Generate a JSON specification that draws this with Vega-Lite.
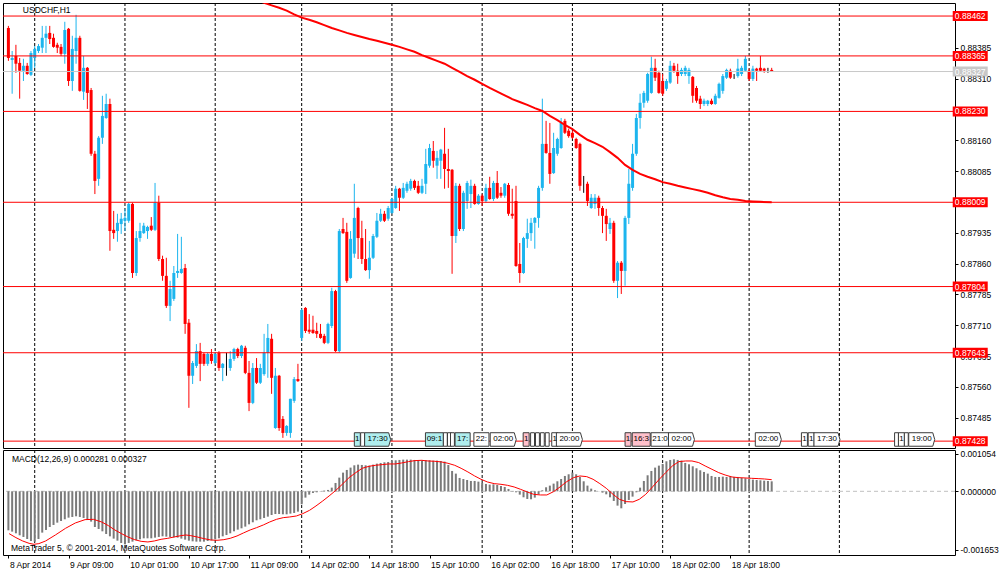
{
  "$schema": "https://vega.github.io/schema/vega-lite/v6.json",
  "background": "white",
  "padding": {"left": 2, "top": 2, "right": 0, "bottom": 0},
  "bounds": "flush",
  "spacing": 2,
  "config": {
    "view": {"stroke": "black", "strokeWidth": 1},
    "axis": {"labelFont": "Liberation Sans"},
    "text": {"font": "Liberation Sans"}
  },
  "datasets": {
    "days": [{"i": 7}, {"i": 31}, {"i": 55}, {"i": 78}, {"i": 102}, {"i": 126}, {"i": 150}, {"i": 174}, {"i": 197}, {"i": 221}],
    "levels": [
      {"p": 0.88462, "t": "0.88462", "k": "level"},
      {"p": 0.88365, "t": "0.88365", "k": "level"},
      {"p": 0.88327, "t": "0.88327", "k": "bid"},
      {"p": 0.8823, "t": "0.88230", "k": "level"},
      {"p": 0.88009, "t": "0.88009", "k": "level"},
      {"p": 0.87804, "t": "0.87804", "k": "level"},
      {"p": 0.87643, "t": "0.87643", "k": "level"},
      {"p": 0.87428, "t": "0.87428", "k": "level"}
    ],
    "events": [
      {"i": 92.8, "t": "1", "k": "buy"}, {"i": 94.2, "t": "", "k": "none"}, {"i": 98.2, "t": "17:30", "k": "buy"},
      {"i": 113.3, "t": "09:1", "k": "buy"}, {"i": 116.2, "t": "", "k": "none"}, {"i": 117.3, "t": "", "k": "none"},
      {"i": 118.1, "t": "", "k": "none"}, {"i": 120.8, "t": "17:", "k": "buy"}, {"i": 125.8, "t": "22:", "k": "none"},
      {"i": 131.6, "t": "02:00", "k": "none"}, {"i": 137.7, "t": "1", "k": "sell"}, {"i": 139.4, "t": "", "k": "none"},
      {"i": 140.7, "t": "", "k": "none"}, {"i": 142.0, "t": "", "k": "none"}, {"i": 143.3, "t": "", "k": "none"},
      {"i": 145.3, "t": "1", "k": "none"}, {"i": 149.2, "t": "20:00", "k": "none"}, {"i": 164.8, "t": "1", "k": "sell"},
      {"i": 168.3, "t": "16:3", "k": "sell"}, {"i": 173.3, "t": "21:0", "k": "none"}, {"i": 179.0, "t": "02:00", "k": "none"},
      {"i": 202.1, "t": "02:00", "k": "none"}, {"i": 211.7, "t": "1", "k": "none"}, {"i": 213.5, "t": "1", "k": "none"},
      {"i": 217.7, "t": "17:30", "k": "none"}, {"i": 236.2, "t": "", "k": "none"}, {"i": 237.5, "t": "1", "k": "none"},
      {"i": 238.8, "t": "", "k": "none"}, {"i": 242.9, "t": "19:00", "k": "none"}
    ],
    "ma": [
      {"i": 66, "v": 0.88501}, {"i": 68, "v": 0.88494}, {"i": 70, "v": 0.88488}, {"i": 72, "v": 0.88482}, {"i": 74, "v": 0.88475},
      {"i": 76, "v": 0.88466}, {"i": 78, "v": 0.88458}, {"i": 80, "v": 0.88453}, {"i": 82, "v": 0.88447}, {"i": 84, "v": 0.8844},
      {"i": 86, "v": 0.88433}, {"i": 88, "v": 0.88427}, {"i": 90, "v": 0.88421}, {"i": 92, "v": 0.88416}, {"i": 94, "v": 0.88411},
      {"i": 96, "v": 0.88406}, {"i": 98, "v": 0.88402}, {"i": 100, "v": 0.88397}, {"i": 102, "v": 0.88392}, {"i": 104, "v": 0.88387},
      {"i": 106, "v": 0.88381}, {"i": 108, "v": 0.88375}, {"i": 110, "v": 0.88367}, {"i": 112, "v": 0.8836}, {"i": 114, "v": 0.88353},
      {"i": 116, "v": 0.88346}, {"i": 118, "v": 0.88336}, {"i": 120, "v": 0.88326}, {"i": 122, "v": 0.88316}, {"i": 124, "v": 0.88307},
      {"i": 126, "v": 0.88297}, {"i": 128, "v": 0.88287}, {"i": 130, "v": 0.88278}, {"i": 132, "v": 0.88269}, {"i": 134, "v": 0.8826},
      {"i": 136, "v": 0.88253}, {"i": 138, "v": 0.88246}, {"i": 140, "v": 0.88238}, {"i": 142, "v": 0.88231}, {"i": 144, "v": 0.88219},
      {"i": 146, "v": 0.88209}, {"i": 148, "v": 0.88197}, {"i": 150, "v": 0.88187}, {"i": 152, "v": 0.88173}, {"i": 154, "v": 0.88161},
      {"i": 156, "v": 0.88153}, {"i": 158, "v": 0.88144}, {"i": 160, "v": 0.88131}, {"i": 162, "v": 0.88117}, {"i": 164, "v": 0.881},
      {"i": 166, "v": 0.88088}, {"i": 168, "v": 0.88078}, {"i": 170, "v": 0.88071}, {"i": 172, "v": 0.88065}, {"i": 174, "v": 0.88058},
      {"i": 176, "v": 0.88054}, {"i": 178, "v": 0.88049}, {"i": 180, "v": 0.88045}, {"i": 182, "v": 0.88041}, {"i": 184, "v": 0.88037},
      {"i": 186, "v": 0.88032}, {"i": 188, "v": 0.88026}, {"i": 190, "v": 0.88021}, {"i": 192, "v": 0.88017}, {"i": 194, "v": 0.88015},
      {"i": 196, "v": 0.88012}, {"i": 198, "v": 0.88011}, {"i": 200, "v": 0.8801}, {"i": 203, "v": 0.88009}
    ],
    "sig": [
      {"i": 0.2, "s": -0.001193}, {"i": 2, "s": -0.001305}, {"i": 3.8, "s": -0.001399}, {"i": 5.5, "s": -0.001465}, {"i": 6.8, "s": -0.001493},
      {"i": 8.1, "s": -0.001474}, {"i": 9.9, "s": -0.001399}, {"i": 12.5, "s": -0.00123}, {"i": 15.2, "s": -0.001042}, {"i": 17.8, "s": -0.000892},
      {"i": 20.4, "s": -0.000798}, {"i": 22.6, "s": -0.000789}, {"i": 24.8, "s": -0.000864}, {"i": 26.6, "s": -0.000967}, {"i": 28.3, "s": -0.001089},
      {"i": 30.1, "s": -0.001193}, {"i": 31.8, "s": -0.001286}, {"i": 33.6, "s": -0.001362}, {"i": 35.3, "s": -0.001409}, {"i": 37.1, "s": -0.001427},
      {"i": 38.8, "s": -0.001399}, {"i": 40.6, "s": -0.001352}, {"i": 42.4, "s": -0.001324}, {"i": 44.1, "s": -0.001286}, {"i": 45.9, "s": -0.001249},
      {"i": 47.2, "s": -0.00123}, {"i": 48.5, "s": -0.001249}, {"i": 50.2, "s": -0.001286}, {"i": 52, "s": -0.001333}, {"i": 53.8, "s": -0.001371},
      {"i": 55.5, "s": -0.00138}, {"i": 57.3, "s": -0.001362}, {"i": 59, "s": -0.001324}, {"i": 60.8, "s": -0.001258}, {"i": 62.5, "s": -0.001174},
      {"i": 64.3, "s": -0.001089}, {"i": 66, "s": -0.001024}, {"i": 67.8, "s": -0.000948}, {"i": 69.5, "s": -0.000864}, {"i": 71.3, "s": -0.000789},
      {"i": 73.1, "s": -0.000742}, {"i": 74.8, "s": -0.000723}, {"i": 76.6, "s": -0.000695}, {"i": 78.3, "s": -0.000629}, {"i": 80.1, "s": -0.000535},
      {"i": 81.8, "s": -0.000413}, {"i": 83.6, "s": -0.000272}, {"i": 85.3, "s": -0.000131}, {"i": 87.1, "s": 0.000028}, {"i": 88.8, "s": 0.000197},
      {"i": 90.6, "s": 0.000385}, {"i": 92.4, "s": 0.000526}, {"i": 94.1, "s": 0.000648}, {"i": 95.9, "s": 0.000704}, {"i": 97.6, "s": 0.000732},
      {"i": 99.4, "s": 0.000751}, {"i": 101.1, "s": 0.00077}, {"i": 102.9, "s": 0.00077}, {"i": 104.6, "s": 0.000798}, {"i": 106.4, "s": 0.000836},
      {"i": 108.1, "s": 0.000864}, {"i": 109.9, "s": 0.000873}, {"i": 111.6, "s": 0.000854}, {"i": 113.4, "s": 0.000845}, {"i": 115.2, "s": 0.000826},
      {"i": 116.9, "s": 0.000789}, {"i": 118.7, "s": 0.000732}, {"i": 120.4, "s": 0.000648}, {"i": 122.2, "s": 0.000545}, {"i": 124, "s": 0.000432},
      {"i": 125.7, "s": 0.000338}, {"i": 127.4, "s": 0.000263}, {"i": 129.2, "s": 0.000216}, {"i": 131, "s": 0.000197}, {"i": 132.7, "s": 0.000169},
      {"i": 134.5, "s": 0.000122}, {"i": 136.2, "s": 0.000056}, {"i": 138, "s": -0.000019}, {"i": 139.7, "s": -0.000085}, {"i": 141.5, "s": -0.000103},
      {"i": 143.2, "s": -0.000103}, {"i": 145, "s": -0.000009}, {"i": 146.7, "s": 0.000122}, {"i": 148.5, "s": 0.000272}, {"i": 150.3, "s": 0.000385},
      {"i": 152, "s": 0.000432}, {"i": 153.8, "s": 0.000413}, {"i": 155.5, "s": 0.000338}, {"i": 157.3, "s": 0.000216}, {"i": 159, "s": 0.000085},
      {"i": 160.8, "s": -0.000085}, {"i": 162.5, "s": -0.000225}, {"i": 164.3, "s": -0.000291}, {"i": 166.1, "s": -0.0003}, {"i": 167.8, "s": -0.000225},
      {"i": 169.5, "s": -0.000085}, {"i": 171.3, "s": 0.000122}, {"i": 173.1, "s": 0.000338}, {"i": 174.8, "s": 0.000526}, {"i": 176.6, "s": 0.000714},
      {"i": 178.3, "s": 0.000836}, {"i": 180.1, "s": 0.000854}, {"i": 181.8, "s": 0.000854}, {"i": 183.6, "s": 0.000808}, {"i": 185.3, "s": 0.000714},
      {"i": 187.1, "s": 0.00062}, {"i": 188.9, "s": 0.000526}, {"i": 190.6, "s": 0.00046}, {"i": 192.4, "s": 0.000404}, {"i": 194.1, "s": 0.000385},
      {"i": 195.9, "s": 0.000376}, {"i": 197.6, "s": 0.000366}, {"i": 199.4, "s": 0.000357}, {"i": 201.1, "s": 0.000347}, {"i": 203, "s": 0.000327}
    ],
    "candles": [
      {"i":0,"o":0.88433,"h":0.88438,"l":0.88353,"c":0.8836,"m":-0.001099},
      {"i":1,"o":0.88355,"h":0.88377,"l":0.88273,"c":0.8836,"m":-0.001136},
      {"i":2,"o":0.88365,"h":0.88392,"l":0.88324,"c":0.88346,"m":-0.001183},
      {"i":3,"o":0.88348,"h":0.8836,"l":0.88261,"c":0.88329,"m":-0.001239},
      {"i":4,"o":0.88329,"h":0.88358,"l":0.88304,"c":0.88341,"m":-0.001286},
      {"i":5,"o":0.88341,"h":0.88348,"l":0.88319,"c":0.88321,"m":-0.001343},
      {"i":6,"o":0.88319,"h":0.88377,"l":0.88316,"c":0.88372,"m":-0.001399},
      {"i":7,"o":0.8836,"h":0.88389,"l":0.88336,"c":0.88382,"m":-0.001418},
      {"i":8,"o":0.88377,"h":0.88394,"l":0.88372,"c":0.88389,"m":-0.001343},
      {"i":9,"o":0.88385,"h":0.88438,"l":0.88372,"c":0.88409,"m":-0.001164},
      {"i":10,"o":0.88409,"h":0.88438,"l":0.88372,"c":0.88419,"m":-0.001089},
      {"i":11,"o":0.88421,"h":0.88438,"l":0.88394,"c":0.88406,"m":-0.001005},
      {"i":12,"o":0.88409,"h":0.88419,"l":0.88385,"c":0.88387,"m":-0.000948},
      {"i":13,"o":0.88392,"h":0.88397,"l":0.88372,"c":0.88385,"m":-0.000883},
      {"i":14,"o":0.88387,"h":0.88394,"l":0.88365,"c":0.8837,"m":-0.000836},
      {"i":15,"o":0.8837,"h":0.88448,"l":0.88346,"c":0.88428,"m":-0.000789},
      {"i":16,"o":0.88431,"h":0.88433,"l":0.88292,"c":0.88304,"m":-0.000742},
      {"i":17,"o":0.88304,"h":0.88414,"l":0.8828,"c":0.88382,"m":-0.000723},
      {"i":18,"o":0.88377,"h":0.88465,"l":0.88346,"c":0.88409,"m":-0.000704},
      {"i":19,"o":0.88409,"h":0.88414,"l":0.88278,"c":0.8828,"m":-0.000723},
      {"i":20,"o":0.88278,"h":0.88365,"l":0.88258,"c":0.88336,"m":-0.000751},
      {"i":21,"o":0.88336,"h":0.88338,"l":0.88236,"c":0.88275,"m":-0.000789},
      {"i":22,"o":0.88282,"h":0.88287,"l":0.88122,"c":0.88127,"m":-0.000854},
      {"i":23,"o":0.88127,"h":0.88134,"l":0.88029,"c":0.88061,"m":-0.001005},
      {"i":24,"o":0.88066,"h":0.8817,"l":0.88049,"c":0.88166,"m":-0.001061},
      {"i":25,"o":0.88166,"h":0.88268,"l":0.88151,"c":0.88219,"m":-0.001127},
      {"i":26,"o":0.88214,"h":0.88273,"l":0.88212,"c":0.88248,"m":-0.001202},
      {"i":27,"o":0.88248,"h":0.88261,"l":0.87891,"c":0.87939,"m":-0.001268},
      {"i":28,"o":0.87942,"h":0.87988,"l":0.8792,"c":0.87934,"m":-0.001333},
      {"i":29,"o":0.87939,"h":0.87981,"l":0.87913,"c":0.87959,"m":-0.00139},
      {"i":30,"o":0.87956,"h":0.87983,"l":0.87932,"c":0.87969,"m":-0.001455},
      {"i":31,"o":0.87964,"h":0.87993,"l":0.87939,"c":0.87971,"m":-0.001493},
      {"i":32,"o":0.87964,"h":0.88008,"l":0.87959,"c":0.88005,"m":-0.001455},
      {"i":33,"o":0.88005,"h":0.88008,"l":0.87825,"c":0.87837,"m":-0.001418},
      {"i":34,"o":0.87837,"h":0.87939,"l":0.8783,"c":0.87922,"m":-0.00138},
      {"i":35,"o":0.87922,"h":0.87959,"l":0.87913,"c":0.87939,"m":-0.001352},
      {"i":36,"o":0.87934,"h":0.87959,"l":0.87932,"c":0.87952,"m":-0.001324},
      {"i":37,"o":0.87939,"h":0.87952,"l":0.8792,"c":0.87949,"m":-0.001324},
      {"i":38,"o":0.87952,"h":0.87973,"l":0.87939,"c":0.87942,"m":-0.001324},
      {"i":39,"o":0.87942,"h":0.88056,"l":0.87939,"c":0.88008,"m":-0.001305},
      {"i":40,"o":0.88008,"h":0.88025,"l":0.87866,"c":0.87871,"m":-0.001286},
      {"i":41,"o":0.87871,"h":0.87879,"l":0.87818,"c":0.8783,"m":-0.001268},
      {"i":42,"o":0.8783,"h":0.87874,"l":0.87752,"c":0.87757,"m":-0.001277},
      {"i":43,"o":0.87757,"h":0.87818,"l":0.8772,"c":0.87798,"m":-0.001286},
      {"i":44,"o":0.87774,"h":0.87854,"l":0.87769,"c":0.87837,"m":-0.001296},
      {"i":45,"o":0.87837,"h":0.87932,"l":0.87825,"c":0.87842,"m":-0.001305},
      {"i":46,"o":0.87837,"h":0.87925,"l":0.87835,"c":0.87847,"m":-0.001333},
      {"i":47,"o":0.87849,"h":0.87859,"l":0.87689,"c":0.87713,"m":-0.001362},
      {"i":48,"o":0.87716,"h":0.87725,"l":0.87509,"c":0.87587,"m":-0.00139},
      {"i":49,"o":0.87587,"h":0.87623,"l":0.87567,"c":0.87618,"m":-0.001409},
      {"i":50,"o":0.87611,"h":0.87664,"l":0.87606,"c":0.87647,"m":-0.001418},
      {"i":51,"o":0.87647,"h":0.87667,"l":0.87574,"c":0.87616,"m":-0.001418},
      {"i":52,"o":0.8764,"h":0.87643,"l":0.87611,"c":0.87616,"m":-0.001418},
      {"i":53,"o":0.87616,"h":0.87643,"l":0.87611,"c":0.8764,"m":-0.001399},
      {"i":54,"o":0.8764,"h":0.87652,"l":0.87616,"c":0.87623,"m":-0.00138},
      {"i":55,"o":0.87618,"h":0.87645,"l":0.87616,"c":0.8764,"m":-0.001352},
      {"i":56,"o":0.87643,"h":0.87647,"l":0.87599,"c":0.87606,"m":-0.001324},
      {"i":57,"o":0.87606,"h":0.87618,"l":0.87574,"c":0.87616,"m":-0.001268},
      {"i":58,"o":0.87623,"h":0.87643,"l":0.87587,"c":0.87623,"m":-0.00123},
      {"i":59,"o":0.87606,"h":0.87647,"l":0.87599,"c":0.87628,"m":-0.001183},
      {"i":60,"o":0.87628,"h":0.87655,"l":0.87623,"c":0.87652,"m":-0.001127},
      {"i":61,"o":0.87652,"h":0.87655,"l":0.8763,"c":0.87635,"m":-0.00108},
      {"i":62,"o":0.87635,"h":0.87662,"l":0.8763,"c":0.8766,"m":-0.001042},
      {"i":63,"o":0.87655,"h":0.8766,"l":0.87591,"c":0.87594,"m":-0.000995},
      {"i":64,"o":0.87594,"h":0.87623,"l":0.87501,"c":0.87521,"m":-0.00093},
      {"i":65,"o":0.87521,"h":0.87618,"l":0.87518,"c":0.87606,"m":-0.000873},
      {"i":66,"o":0.87606,"h":0.8763,"l":0.87567,"c":0.8757,"m":-0.000817},
      {"i":67,"o":0.8757,"h":0.87616,"l":0.87567,"c":0.87606,"m":-0.000789},
      {"i":68,"o":0.87591,"h":0.87689,"l":0.87587,"c":0.87643,"m":-0.000751},
      {"i":69,"o":0.87643,"h":0.87713,"l":0.87582,"c":0.87679,"m":-0.000714},
      {"i":70,"o":0.87677,"h":0.87689,"l":0.87543,"c":0.87582,"m":-0.000667},
      {"i":71,"o":0.8746,"h":0.87606,"l":0.87458,"c":0.87587,"m":-0.000639},
      {"i":72,"o":0.87587,"h":0.87589,"l":0.87453,"c":0.8746,"m":-0.000639},
      {"i":73,"o":0.87482,"h":0.87489,"l":0.87436,"c":0.87448,"m":-0.000648},
      {"i":74,"o":0.87448,"h":0.87467,"l":0.87441,"c":0.87465,"m":-0.000648},
      {"i":75,"o":0.87448,"h":0.87531,"l":0.87436,"c":0.87531,"m":-0.000629},
      {"i":76,"o":0.87526,"h":0.87584,"l":0.87521,"c":0.87579,"m":-0.00061},
      {"i":77,"o":0.87579,"h":0.87616,"l":0.87572,"c":0.87574,"m":-0.000573},
      {"i":78,"o":0.87679,"h":0.8775,"l":0.87672,"c":0.87747,"m":-0.000366},
      {"i":79,"o":0.87752,"h":0.87754,"l":0.87691,"c":0.87696,"m":-0.000178},
      {"i":80,"o":0.87699,"h":0.87737,"l":0.87689,"c":0.87694,"m":-0.000094},
      {"i":81,"o":0.87699,"h":0.87733,"l":0.87689,"c":0.87691,"m":-0.000047},
      {"i":82,"o":0.87696,"h":0.87716,"l":0.87679,"c":0.87689,"m":-0.000028},
      {"i":83,"o":0.87689,"h":0.87713,"l":0.87677,"c":0.87679,"m":-0.000009},
      {"i":84,"o":0.87684,"h":0.87689,"l":0.87664,"c":0.87667,"m":0.000019},
      {"i":85,"o":0.87667,"h":0.87716,"l":0.87664,"c":0.87713,"m":0.000038},
      {"i":86,"o":0.87708,"h":0.87801,"l":0.87703,"c":0.87793,"m":0.000103},
      {"i":87,"o":0.87793,"h":0.87796,"l":0.87645,"c":0.87647,"m":0.000235},
      {"i":88,"o":0.87647,"h":0.87944,"l":0.87643,"c":0.87939,"m":0.000385},
      {"i":89,"o":0.87944,"h":0.87971,"l":0.87932,"c":0.87934,"m":0.000526},
      {"i":90,"o":0.87937,"h":0.87959,"l":0.87813,"c":0.87818,"m":0.000601},
      {"i":91,"o":0.87825,"h":0.87939,"l":0.87823,"c":0.8792,"m":0.000667},
      {"i":92,"o":0.87884,"h":0.88054,"l":0.87874,"c":0.87971,"m":0.000732},
      {"i":93,"o":0.87995,"h":0.87998,"l":0.87871,"c":0.87922,"m":0.000751},
      {"i":94,"o":0.87922,"h":0.87964,"l":0.87859,"c":0.87871,"m":0.000742},
      {"i":95,"o":0.87871,"h":0.87944,"l":0.87842,"c":0.87844,"m":0.000732},
      {"i":96,"o":0.87844,"h":0.87915,"l":0.87823,"c":0.87874,"m":0.000723},
      {"i":97,"o":0.87874,"h":0.87932,"l":0.87871,"c":0.87927,"m":0.000751},
      {"i":98,"o":0.87925,"h":0.87983,"l":0.87922,"c":0.87964,"m":0.000779},
      {"i":99,"o":0.87964,"h":0.87993,"l":0.87961,"c":0.87981,"m":0.000798},
      {"i":100,"o":0.87981,"h":0.87988,"l":0.87961,"c":0.87964,"m":0.000817},
      {"i":101,"o":0.87969,"h":0.88,"l":0.87964,"c":0.87995,"m":0.000826},
      {"i":102,"o":0.87983,"h":0.8802,"l":0.87981,"c":0.88017,"m":0.000854},
      {"i":103,"o":0.87995,"h":0.88049,"l":0.87993,"c":0.88042,"m":0.000873},
      {"i":104,"o":0.88042,"h":0.88044,"l":0.87988,"c":0.8802,"m":0.000883},
      {"i":105,"o":0.8802,"h":0.88056,"l":0.88017,"c":0.88044,"m":0.000892},
      {"i":106,"o":0.88037,"h":0.88059,"l":0.88032,"c":0.88054,"m":0.000892},
      {"i":107,"o":0.88042,"h":0.88066,"l":0.88037,"c":0.88061,"m":0.000892},
      {"i":108,"o":0.88061,"h":0.88064,"l":0.88039,"c":0.88044,"m":0.000883},
      {"i":109,"o":0.88049,"h":0.88061,"l":0.88029,"c":0.88032,"m":0.000873},
      {"i":110,"o":0.88032,"h":0.88066,"l":0.88029,"c":0.88049,"m":0.000873},
      {"i":111,"o":0.88054,"h":0.88139,"l":0.88029,"c":0.88102,"m":0.000873},
      {"i":112,"o":0.88098,"h":0.88151,"l":0.88093,"c":0.88141,"m":0.000873},
      {"i":113,"o":0.88134,"h":0.88158,"l":0.88093,"c":0.8811,"m":0.000864},
      {"i":114,"o":0.88098,"h":0.88134,"l":0.88066,"c":0.88117,"m":0.000864},
      {"i":115,"o":0.8811,"h":0.88139,"l":0.88066,"c":0.88137,"m":0.000854},
      {"i":116,"o":0.88127,"h":0.8819,"l":0.88042,"c":0.8809,"m":0.000836},
      {"i":117,"o":0.8809,"h":0.88139,"l":0.88044,"c":0.88085,"m":0.000742},
      {"i":118,"o":0.88088,"h":0.8809,"l":0.87835,"c":0.87927,"m":0.000573},
      {"i":119,"o":0.87927,"h":0.88056,"l":0.8791,"c":0.88049,"m":0.000498},
      {"i":120,"o":0.88049,"h":0.88054,"l":0.87939,"c":0.87944,"m":0.000376},
      {"i":121,"o":0.87944,"h":0.88037,"l":0.87939,"c":0.88032,"m":0.000347},
      {"i":122,"o":0.88012,"h":0.88061,"l":0.87993,"c":0.88056,"m":0.000319},
      {"i":123,"o":0.88029,"h":0.88064,"l":0.87995,"c":0.88049,"m":0.000291},
      {"i":124,"o":0.88049,"h":0.88054,"l":0.88003,"c":0.88005,"m":0.000291},
      {"i":125,"o":0.88005,"h":0.88029,"l":0.88003,"c":0.88025,"m":0.000272},
      {"i":126,"o":0.88025,"h":0.88029,"l":0.88,"c":0.88012,"m":0.000235},
      {"i":127,"o":0.88012,"h":0.88054,"l":0.88008,"c":0.88044,"m":0.000207},
      {"i":128,"o":0.88044,"h":0.88071,"l":0.88015,"c":0.88017,"m":0.000188},
      {"i":129,"o":0.88017,"h":0.88061,"l":0.88012,"c":0.88056,"m":0.000197},
      {"i":130,"o":0.88056,"h":0.88085,"l":0.88017,"c":0.8802,"m":0.000178},
      {"i":131,"o":0.88032,"h":0.88046,"l":0.8802,"c":0.88025,"m":0.00015},
      {"i":132,"o":0.88025,"h":0.88056,"l":0.8802,"c":0.88054,"m":0.000122},
      {"i":133,"o":0.88051,"h":0.88056,"l":0.87976,"c":0.87981,"m":0.000066},
      {"i":134,"o":0.87981,"h":0.88042,"l":0.87969,"c":0.87976,"m":0.000009},
      {"i":135,"o":0.88012,"h":0.88049,"l":0.87852,"c":0.87854,"m":-0.000028},
      {"i":136,"o":0.87859,"h":0.8791,"l":0.87813,"c":0.87837,"m":-0.000094},
      {"i":137,"o":0.87837,"h":0.87925,"l":0.87835,"c":0.87922,"m":-0.000169},
      {"i":138,"o":0.8792,"h":0.87969,"l":0.87898,"c":0.87934,"m":-0.000216},
      {"i":139,"o":0.87934,"h":0.87971,"l":0.87915,"c":0.87959,"m":-0.000225},
      {"i":140,"o":0.87959,"h":0.87973,"l":0.87896,"c":0.87971,"m":-0.000178},
      {"i":141,"o":0.87971,"h":0.88049,"l":0.87947,"c":0.88044,"m":-0.000085},
      {"i":142,"o":0.88044,"h":0.88261,"l":0.88037,"c":0.88151,"m":0.000028},
      {"i":143,"o":0.88151,"h":0.88207,"l":0.88127,"c":0.88129,"m":0.000113},
      {"i":144,"o":0.88129,"h":0.88202,"l":0.88054,"c":0.88078,"m":0.00016},
      {"i":145,"o":0.8808,"h":0.88178,"l":0.88078,"c":0.88141,"m":0.000216},
      {"i":146,"o":0.88127,"h":0.88166,"l":0.88122,"c":0.88163,"m":0.000282},
      {"i":147,"o":0.88141,"h":0.88214,"l":0.88139,"c":0.88202,"m":0.000347},
      {"i":148,"o":0.88207,"h":0.88212,"l":0.88175,"c":0.88178,"m":0.000432},
      {"i":149,"o":0.88183,"h":0.88188,"l":0.88166,"c":0.8817,"m":0.000479},
      {"i":150,"o":0.88178,"h":0.88183,"l":0.88163,"c":0.88166,"m":0.000526},
      {"i":151,"o":0.88163,"h":0.88166,"l":0.88139,"c":0.88141,"m":0.000479},
      {"i":152,"o":0.88151,"h":0.88154,"l":0.88037,"c":0.88049,"m":0.000404},
      {"i":153,"o":0.88049,"h":0.88073,"l":0.88032,"c":0.88049,"m":0.000282},
      {"i":154,"o":0.88054,"h":0.88059,"l":0.88,"c":0.88012,"m":0.00016},
      {"i":155,"o":0.87995,"h":0.88029,"l":0.87993,"c":0.8802,"m":0.000075},
      {"i":156,"o":0.88005,"h":0.88029,"l":0.87993,"c":0.8802,"m":0.000028},
      {"i":157,"o":0.8802,"h":0.88025,"l":0.87976,"c":0.87995,"m":0.000005},
      {"i":158,"o":0.87995,"h":0.88,"l":0.87934,"c":0.87976,"m":-0.000038},
      {"i":159,"o":0.87976,"h":0.87993,"l":0.87915,"c":0.87956,"m":-0.000085},
      {"i":160,"o":0.87944,"h":0.87971,"l":0.87932,"c":0.87959,"m":-0.000169},
      {"i":161,"o":0.87959,"h":0.87964,"l":0.87813,"c":0.87818,"m":-0.000272},
      {"i":162,"o":0.87818,"h":0.87866,"l":0.87776,"c":0.87862,"m":-0.000404},
      {"i":163,"o":0.87862,"h":0.87866,"l":0.87786,"c":0.87842,"m":-0.000479},
      {"i":164,"o":0.87842,"h":0.87976,"l":0.87806,"c":0.87971,"m":-0.000357},
      {"i":165,"o":0.87971,"h":0.8809,"l":0.87956,"c":0.88054,"m":-0.000244},
      {"i":166,"o":0.88044,"h":0.88151,"l":0.88037,"c":0.88127,"m":-0.00015},
      {"i":167,"o":0.88127,"h":0.88224,"l":0.88122,"c":0.88214,"m":-0.000028},
      {"i":168,"o":0.88214,"h":0.88273,"l":0.88188,"c":0.88251,"m":0.000103},
      {"i":169,"o":0.88251,"h":0.8828,"l":0.88239,"c":0.88275,"m":0.000291},
      {"i":170,"o":0.88256,"h":0.88324,"l":0.88251,"c":0.88321,"m":0.000451},
      {"i":171,"o":0.88275,"h":0.88363,"l":0.88273,"c":0.88336,"m":0.000573},
      {"i":172,"o":0.88336,"h":0.88358,"l":0.88304,"c":0.88312,"m":0.000667},
      {"i":173,"o":0.88324,"h":0.88329,"l":0.88273,"c":0.88275,"m":0.000723},
      {"i":174,"o":0.88304,"h":0.88321,"l":0.88268,"c":0.88273,"m":0.00077},
      {"i":175,"o":0.88285,"h":0.88309,"l":0.8828,"c":0.88304,"m":0.000845},
      {"i":176,"o":0.883,"h":0.88353,"l":0.88297,"c":0.88341,"m":0.000883},
      {"i":177,"o":0.88341,"h":0.88348,"l":0.88324,"c":0.88329,"m":0.000901},
      {"i":178,"o":0.88329,"h":0.88346,"l":0.88297,"c":0.88316,"m":0.000883},
      {"i":179,"o":0.88321,"h":0.88336,"l":0.88316,"c":0.88331,"m":0.000864},
      {"i":180,"o":0.88321,"h":0.88341,"l":0.88316,"c":0.88336,"m":0.000798},
      {"i":181,"o":0.88316,"h":0.88336,"l":0.88297,"c":0.88331,"m":0.000761},
      {"i":182,"o":0.88314,"h":0.88316,"l":0.88251,"c":0.88268,"m":0.000704},
      {"i":183,"o":0.88287,"h":0.88292,"l":0.88251,"c":0.88256,"m":0.000648},
      {"i":184,"o":0.88261,"h":0.88268,"l":0.88236,"c":0.88248,"m":0.000592},
      {"i":185,"o":0.88248,"h":0.88261,"l":0.88243,"c":0.88256,"m":0.000545},
      {"i":186,"o":0.88248,"h":0.88258,"l":0.88243,"c":0.88256,"m":0.000498},
      {"i":187,"o":0.88256,"h":0.88261,"l":0.88246,"c":0.88248,"m":0.000432},
      {"i":188,"o":0.88248,"h":0.88273,"l":0.88246,"c":0.88268,"m":0.000404},
      {"i":189,"o":0.88263,"h":0.883,"l":0.88261,"c":0.88297,"m":0.000404},
      {"i":190,"o":0.8828,"h":0.88321,"l":0.88273,"c":0.88316,"m":0.000413},
      {"i":191,"o":0.88312,"h":0.88334,"l":0.88309,"c":0.88331,"m":0.000404},
      {"i":192,"o":0.88329,"h":0.88334,"l":0.88309,"c":0.88312,"m":0.000432},
      {"i":193,"o":0.88312,"h":0.88321,"l":0.88309,"c":0.88312,"m":0.000404},
      {"i":194,"o":0.88316,"h":0.88358,"l":0.88312,"c":0.88334,"m":0.000404},
      {"i":195,"o":0.88321,"h":0.88341,"l":0.88316,"c":0.88336,"m":0.000376},
      {"i":196,"o":0.88329,"h":0.88365,"l":0.88326,"c":0.88358,"m":0.000366},
      {"i":197,"o":0.88329,"h":0.88334,"l":0.88304,"c":0.88309,"m":0.000347},
      {"i":198,"o":0.88309,"h":0.88341,"l":0.88304,"c":0.88334,"m":0.000329},
      {"i":199,"o":0.88334,"h":0.88336,"l":0.88304,"c":0.88329,"m":0.000319},
      {"i":200,"o":0.88336,"h":0.88365,"l":0.88326,"c":0.88329,"m":0.00031},
      {"i":201,"o":0.88334,"h":0.88336,"l":0.88324,"c":0.88329,"m":0.0003},
      {"i":202,"o":0.88331,"h":0.88336,"l":0.88324,"c":0.88331,"m":0.000291},
      {"i":203,"o":0.88331,"h":0.88336,"l":0.88326,"c":0.88327,"m":0.000281}
    ]
  },
  "vconcat": [
    {
      "width": 952,
      "height": 445,
      "layer": [
        {
          "data": {"name": "days"},
          "mark": {"type": "rule", "color": "black", "strokeWidth": 1, "strokeDash": [3, 2]},
          "encoding": {
            "x": {"field": "i", "type": "quantitative", "scale": {"domain": [-0.105, 250.42], "nice": false, "zero": false}, "axis": null}
          }
        },
        {
          "data": {"name": "candles"},
          "mark": {"type": "rule", "strokeWidth": 1, "clip": true},
          "encoding": {
            "x": {"field": "i", "type": "quantitative", "scale": {"domain": [-0.105, 250.42], "nice": false, "zero": false}, "axis": null},
            "y": {
              "field": "l", "type": "quantitative",
              "scale": {"domain": [0.874113, 0.884937], "nice": false, "zero": false},
              "axis": {"orient": "right", "title": null, "grid": false, "domain": false, "zindex": 0, "values": [0.88385, 0.8831, 0.8816, 0.88085, 0.87935, 0.8786, 0.87785, 0.8771, 0.87635, 0.8756, 0.87485], "format": ".5f", "tickSize": 3, "tickColor": "black", "labelPadding": 2, "labelFontSize": 8.5, "labelColor": "black", "labelOverlap": false, "labelBound": false, "labelFlush": false}
            },
            "y2": {"field": "h"},
            "color": {
              "condition": [
                {"test": "datum.c > datum.o", "value": "#1CB5EE"},
                {"test": "datum.c == datum.o", "value": "black"}
              ],
              "value": "#FF0000"
            }
          }
        },
        {
          "data": {"name": "candles"},
          "mark": {"type": "bar", "width": 3, "clip": true},
          "encoding": {
            "x": {"field": "i", "type": "quantitative", "scale": {"domain": [-0.105, 250.42], "nice": false, "zero": false}, "axis": null},
            "y": {
              "field": "o", "type": "quantitative",
              "scale": {"domain": [0.874113, 0.884937], "nice": false, "zero": false},
              "axis": {"orient": "right", "title": null, "grid": false, "domain": false, "zindex": 0, "values": [0.88385, 0.8831, 0.8816, 0.88085, 0.87935, 0.8786, 0.87785, 0.8771, 0.87635, 0.8756, 0.87485], "format": ".5f", "tickSize": 3, "tickColor": "black", "labelPadding": 2, "labelFontSize": 8.5, "labelColor": "black", "labelOverlap": false, "labelBound": false, "labelFlush": false}
            },
            "y2": {"field": "c"},
            "color": {
              "condition": [
                {"test": "datum.c > datum.o", "value": "#1CB5EE"},
                {"test": "datum.c == datum.o", "value": "black"}
              ],
              "value": "#FF0000"
            }
          }
        },
        {
          "data": {"name": "levels"},
          "mark": {"type": "rule", "strokeWidth": 1},
          "encoding": {
            "y": {
              "field": "p", "type": "quantitative",
              "scale": {"domain": [0.874113, 0.884937], "nice": false, "zero": false},
              "axis": {"orient": "right", "title": null, "grid": false, "domain": false, "zindex": 0, "values": [0.88385, 0.8831, 0.8816, 0.88085, 0.87935, 0.8786, 0.87785, 0.8771, 0.87635, 0.8756, 0.87485], "format": ".5f", "tickSize": 3, "tickColor": "black", "labelPadding": 2, "labelFontSize": 8.5, "labelColor": "black", "labelOverlap": false, "labelBound": false, "labelFlush": false}
            },
            "color": {"condition": {"test": "datum.k == 'bid'", "value": "#C8C8C8"}, "value": "#FF0000"}
          }
        },
        {
          "data": {"name": "ma"},
          "mark": {"type": "line", "color": "#FF0000", "strokeWidth": 2, "clip": true},
          "encoding": {
            "x": {"field": "i", "type": "quantitative", "scale": {"domain": [-0.105, 250.42], "nice": false, "zero": false}, "axis": null},
            "y": {
              "field": "v", "type": "quantitative",
              "scale": {"domain": [0.874113, 0.884937], "nice": false, "zero": false},
              "axis": {"orient": "right", "title": null, "grid": false, "domain": false, "zindex": 0, "values": [0.88385, 0.8831, 0.8816, 0.88085, 0.87935, 0.8786, 0.87785, 0.8771, 0.87635, 0.8756, 0.87485], "format": ".5f", "tickSize": 3, "tickColor": "black", "labelPadding": 2, "labelFontSize": 8.5, "labelColor": "black", "labelOverlap": false, "labelBound": false, "labelFlush": false}
            }
          }
        },
        {
          "data": {"name": "events"},
          "mark": {"type": "point", "filled": true, "size": 676, "opacity": 1, "stroke": "#3C3C3C", "strokeWidth": 1},
          "encoding": {
            "x": {"field": "i", "type": "quantitative", "scale": {"domain": [-0.105, 250.42], "nice": false, "zero": false}, "axis": null},
            "y": {
              "datum": 0.87432, "type": "quantitative",
              "scale": {"domain": [0.874113, 0.884937], "nice": false, "zero": false},
              "axis": {"orient": "right", "title": null, "grid": false, "domain": false, "zindex": 0, "values": [0.88385, 0.8831, 0.8816, 0.88085, 0.87935, 0.8786, 0.87785, 0.8771, 0.87635, 0.8756, 0.87485], "format": ".5f", "tickSize": 3, "tickColor": "black", "labelPadding": 2, "labelFontSize": 8.5, "labelColor": "black", "labelOverlap": false, "labelBound": false, "labelFlush": false}
            },
            "shape": {
              "condition": [
                {"test": "length(datum.t) == 5", "value": "M-1,-0.52H0.85L1,0L0.85,0.52H-1Z"},
                {"test": "length(datum.t) == 4", "value": "M-0.69,-0.52H0.69V0.52H-0.69Z"},
                {"test": "length(datum.t) == 3", "value": "M-0.58,-0.52H0.58V0.52H-0.58Z"},
                {"test": "length(datum.t) == 1", "value": "M-0.23,-0.52H0.23V0.52H-0.23Z"}
              ],
              "value": "M-0.15,-0.52H0.15V0.52H-0.15Z"
            },
            "fill": {
              "condition": [
                {"test": "datum.k == 'buy'", "value": "#AFEEEE"},
                {"test": "datum.k == 'sell'", "value": "#FFC0CB"}
              ],
              "value": "white"
            }
          }
        },
        {
          "data": {"name": "events"},
          "mark": {"type": "text", "fontSize": 8, "color": "black", "align": "center", "baseline": "middle"},
          "encoding": {
            "x": {"field": "i", "type": "quantitative", "scale": {"domain": [-0.105, 250.42], "nice": false, "zero": false}, "axis": null},
            "y": {
              "datum": 0.87432, "type": "quantitative",
              "scale": {"domain": [0.874113, 0.884937], "nice": false, "zero": false},
              "axis": {"orient": "right", "title": null, "grid": false, "domain": false, "zindex": 0, "values": [0.88385, 0.8831, 0.8816, 0.88085, 0.87935, 0.8786, 0.87785, 0.8771, 0.87635, 0.8756, 0.87485], "format": ".5f", "tickSize": 3, "tickColor": "black", "labelPadding": 2, "labelFontSize": 8.5, "labelColor": "black", "labelOverlap": false, "labelBound": false, "labelFlush": false}
            },
            "text": {"field": "t"}
          }
        },
        {
          "data": {"name": "levels"},
          "mark": {"type": "point", "filled": true, "size": 1225, "opacity": 1, "shape": "M-1,-0.286H1V0.286H-1Z"},
          "encoding": {
            "x": {"datum": 255.8, "type": "quantitative", "scale": {"domain": [-0.105, 250.42], "nice": false, "zero": false}, "axis": null},
            "y": {
              "field": "p", "type": "quantitative",
              "scale": {"domain": [0.874113, 0.884937], "nice": false, "zero": false},
              "axis": {"orient": "right", "title": null, "grid": false, "domain": false, "zindex": 0, "values": [0.88385, 0.8831, 0.8816, 0.88085, 0.87935, 0.8786, 0.87785, 0.8771, 0.87635, 0.8756, 0.87485], "format": ".5f", "tickSize": 3, "tickColor": "black", "labelPadding": 2, "labelFontSize": 8.5, "labelColor": "black", "labelOverlap": false, "labelBound": false, "labelFlush": false}
            },
            "fill": {"condition": {"test": "datum.k == 'bid'", "value": "#C8C8C8"}, "value": "#FF0000"}
          }
        },
        {
          "data": {"name": "levels"},
          "mark": {"type": "text", "fontSize": 8.5, "color": "white", "align": "center", "baseline": "middle"},
          "encoding": {
            "x": {"datum": 255.8, "type": "quantitative", "scale": {"domain": [-0.105, 250.42], "nice": false, "zero": false}, "axis": null},
            "y": {
              "field": "p", "type": "quantitative",
              "scale": {"domain": [0.874113, 0.884937], "nice": false, "zero": false},
              "axis": {"orient": "right", "title": null, "grid": false, "domain": false, "zindex": 0, "values": [0.88385, 0.8831, 0.8816, 0.88085, 0.87935, 0.8786, 0.87785, 0.8771, 0.87635, 0.8756, 0.87485], "format": ".5f", "tickSize": 3, "tickColor": "black", "labelPadding": 2, "labelFontSize": 8.5, "labelColor": "black", "labelOverlap": false, "labelBound": false, "labelFlush": false}
            },
            "text": {"field": "t"}
          }
        },
        {
          "data": {"values": [{"t": "USDCHF,H1"}]},
          "mark": {"type": "text", "fontSize": 8.5, "color": "black", "align": "left", "baseline": "middle"},
          "encoding": {
            "x": {"datum": 3.85, "type": "quantitative", "scale": {"domain": [-0.105, 250.42], "nice": false, "zero": false}, "axis": null},
            "y": {
              "datum": 0.88477, "type": "quantitative",
              "scale": {"domain": [0.874113, 0.884937], "nice": false, "zero": false},
              "axis": {"orient": "right", "title": null, "grid": false, "domain": false, "zindex": 0, "values": [0.88385, 0.8831, 0.8816, 0.88085, 0.87935, 0.8786, 0.87785, 0.8771, 0.87635, 0.8756, 0.87485], "format": ".5f", "tickSize": 3, "tickColor": "black", "labelPadding": 2, "labelFontSize": 8.5, "labelColor": "black", "labelOverlap": false, "labelBound": false, "labelFlush": false}
            },
            "text": {"field": "t"}
          }
        }
      ]
    },
    {
      "width": 952,
      "height": 105,
      "layer": [
        {
          "data": {"name": "days"},
          "mark": {"type": "rule", "color": "black", "strokeWidth": 1, "strokeDash": [3, 2]},
          "encoding": {
            "x": {
              "field": "i", "type": "quantitative",
              "scale": {"domain": [-0.105, 250.42], "nice": false, "zero": false},
              "axis": {"orient": "bottom", "title": null, "grid": false, "domain": false, "zindex": 0, "values": [0, 16, 32, 48, 64, 80, 96, 112, 128, 144, 160, 176, 192], "labelExpr": "['8 Apr 2014','9 Apr 09:00','10 Apr 01:00','10 Apr 17:00','11 Apr 09:00','14 Apr 02:00','14 Apr 18:00','15 Apr 10:00','16 Apr 02:00','16 Apr 18:00','17 Apr 10:00','18 Apr 02:00','18 Apr 18:00'][round(datum.value / 16)]", "labelAlign": "left", "labelOffset": 1, "tickSize": 3, "tickColor": "black", "labelPadding": 2, "labelFontSize": 8.5, "labelColor": "black", "labelOverlap": false, "labelBound": false, "labelFlush": false}
            }
          }
        },
        {
          "data": {"values": [{"z": 0}]},
          "mark": {"type": "rule", "color": "#C0C0C0", "strokeWidth": 1, "strokeDash": [4, 3]},
          "encoding": {
            "y": {
              "field": "z", "type": "quantitative",
              "scale": {"domain": [-0.001794, 0.001163], "nice": false, "zero": false},
              "axis": {"orient": "right", "title": null, "grid": false, "domain": false, "zindex": 0, "values": [0.001054, 0, -0.001653], "labelExpr": "datum.value > 0.0005 ? '0.001054' : (datum.value < -0.0005 ? '-0.001653' : '0.000000')", "tickSize": 3, "tickColor": "black", "labelPadding": 2, "labelFontSize": 8.5, "labelColor": "black", "labelOverlap": false, "labelBound": false, "labelFlush": false}
            }
          }
        },
        {
          "data": {"name": "candles"},
          "mark": {"type": "bar", "width": 2, "color": "#7A7A7A"},
          "encoding": {
            "x": {
              "field": "i", "type": "quantitative",
              "scale": {"domain": [-0.105, 250.42], "nice": false, "zero": false},
              "axis": {"orient": "bottom", "title": null, "grid": false, "domain": false, "zindex": 0, "values": [0, 16, 32, 48, 64, 80, 96, 112, 128, 144, 160, 176, 192], "labelExpr": "['8 Apr 2014','9 Apr 09:00','10 Apr 01:00','10 Apr 17:00','11 Apr 09:00','14 Apr 02:00','14 Apr 18:00','15 Apr 10:00','16 Apr 02:00','16 Apr 18:00','17 Apr 10:00','18 Apr 02:00','18 Apr 18:00'][round(datum.value / 16)]", "labelAlign": "left", "labelOffset": 1, "tickSize": 3, "tickColor": "black", "labelPadding": 2, "labelFontSize": 8.5, "labelColor": "black", "labelOverlap": false, "labelBound": false, "labelFlush": false}
            },
            "y": {
              "field": "m", "type": "quantitative",
              "scale": {"domain": [-0.001794, 0.001163], "nice": false, "zero": false},
              "axis": {"orient": "right", "title": null, "grid": false, "domain": false, "zindex": 0, "values": [0.001054, 0, -0.001653], "labelExpr": "datum.value > 0.0005 ? '0.001054' : (datum.value < -0.0005 ? '-0.001653' : '0.000000')", "tickSize": 3, "tickColor": "black", "labelPadding": 2, "labelFontSize": 8.5, "labelColor": "black", "labelOverlap": false, "labelBound": false, "labelFlush": false}
            },
            "y2": {"datum": 0}
          }
        },
        {
          "data": {"name": "sig"},
          "mark": {"type": "line", "color": "#FF0000", "strokeWidth": 1},
          "encoding": {
            "x": {
              "field": "i", "type": "quantitative",
              "scale": {"domain": [-0.105, 250.42], "nice": false, "zero": false},
              "axis": {"orient": "bottom", "title": null, "grid": false, "domain": false, "zindex": 0, "values": [0, 16, 32, 48, 64, 80, 96, 112, 128, 144, 160, 176, 192], "labelExpr": "['8 Apr 2014','9 Apr 09:00','10 Apr 01:00','10 Apr 17:00','11 Apr 09:00','14 Apr 02:00','14 Apr 18:00','15 Apr 10:00','16 Apr 02:00','16 Apr 18:00','17 Apr 10:00','18 Apr 02:00','18 Apr 18:00'][round(datum.value / 16)]", "labelAlign": "left", "labelOffset": 1, "tickSize": 3, "tickColor": "black", "labelPadding": 2, "labelFontSize": 8.5, "labelColor": "black", "labelOverlap": false, "labelBound": false, "labelFlush": false}
            },
            "y": {
              "field": "s", "type": "quantitative",
              "scale": {"domain": [-0.001794, 0.001163], "nice": false, "zero": false},
              "axis": {"orient": "right", "title": null, "grid": false, "domain": false, "zindex": 0, "values": [0.001054, 0, -0.001653], "labelExpr": "datum.value > 0.0005 ? '0.001054' : (datum.value < -0.0005 ? '-0.001653' : '0.000000')", "tickSize": 3, "tickColor": "black", "labelPadding": 2, "labelFontSize": 8.5, "labelColor": "black", "labelOverlap": false, "labelBound": false, "labelFlush": false}
            }
          }
        },
        {
          "data": {"values": [{"t": "MACD(12,26,9) 0.000281 0.000327"}]},
          "mark": {"type": "text", "fontSize": 8.5, "color": "black", "align": "left", "baseline": "middle"},
          "encoding": {
            "x": {
              "datum": 0.95, "type": "quantitative",
              "scale": {"domain": [-0.105, 250.42], "nice": false, "zero": false},
              "axis": {"orient": "bottom", "title": null, "grid": false, "domain": false, "zindex": 0, "values": [0, 16, 32, 48, 64, 80, 96, 112, 128, 144, 160, 176, 192], "labelExpr": "['8 Apr 2014','9 Apr 09:00','10 Apr 01:00','10 Apr 17:00','11 Apr 09:00','14 Apr 02:00','14 Apr 18:00','15 Apr 10:00','16 Apr 02:00','16 Apr 18:00','17 Apr 10:00','18 Apr 02:00','18 Apr 18:00'][round(datum.value / 16)]", "labelAlign": "left", "labelOffset": 1, "tickSize": 3, "tickColor": "black", "labelPadding": 2, "labelFontSize": 8.5, "labelColor": "black", "labelOverlap": false, "labelBound": false, "labelFlush": false}
            },
            "y": {
              "datum": 0.000901, "type": "quantitative",
              "scale": {"domain": [-0.001794, 0.001163], "nice": false, "zero": false},
              "axis": {"orient": "right", "title": null, "grid": false, "domain": false, "zindex": 0, "values": [0.001054, 0, -0.001653], "labelExpr": "datum.value > 0.0005 ? '0.001054' : (datum.value < -0.0005 ? '-0.001653' : '0.000000')", "tickSize": 3, "tickColor": "black", "labelPadding": 2, "labelFontSize": 8.5, "labelColor": "black", "labelOverlap": false, "labelBound": false, "labelFlush": false}
            },
            "text": {"field": "t"}
          }
        },
        {
          "data": {"values": [{"t": "MetaTrader 5, © 2001-2014, MetaQuotes Software Corp."}]},
          "mark": {"type": "text", "fontSize": 8.5, "color": "black", "align": "left", "baseline": "middle"},
          "encoding": {
            "x": {
              "datum": 0.69, "type": "quantitative",
              "scale": {"domain": [-0.105, 250.42], "nice": false, "zero": false},
              "axis": {"orient": "bottom", "title": null, "grid": false, "domain": false, "zindex": 0, "values": [0, 16, 32, 48, 64, 80, 96, 112, 128, 144, 160, 176, 192], "labelExpr": "['8 Apr 2014','9 Apr 09:00','10 Apr 01:00','10 Apr 17:00','11 Apr 09:00','14 Apr 02:00','14 Apr 18:00','15 Apr 10:00','16 Apr 02:00','16 Apr 18:00','17 Apr 10:00','18 Apr 02:00','18 Apr 18:00'][round(datum.value / 16)]", "labelAlign": "left", "labelOffset": 1, "tickSize": 3, "tickColor": "black", "labelPadding": 2, "labelFontSize": 8.5, "labelColor": "black", "labelOverlap": false, "labelBound": false, "labelFlush": false}
            },
            "y": {
              "datum": -0.001605, "type": "quantitative",
              "scale": {"domain": [-0.001794, 0.001163], "nice": false, "zero": false},
              "axis": {"orient": "right", "title": null, "grid": false, "domain": false, "zindex": 0, "values": [0.001054, 0, -0.001653], "labelExpr": "datum.value > 0.0005 ? '0.001054' : (datum.value < -0.0005 ? '-0.001653' : '0.000000')", "tickSize": 3, "tickColor": "black", "labelPadding": 2, "labelFontSize": 8.5, "labelColor": "black", "labelOverlap": false, "labelBound": false, "labelFlush": false}
            },
            "text": {"field": "t"}
          }
        }
      ]
    }
  ]
}
